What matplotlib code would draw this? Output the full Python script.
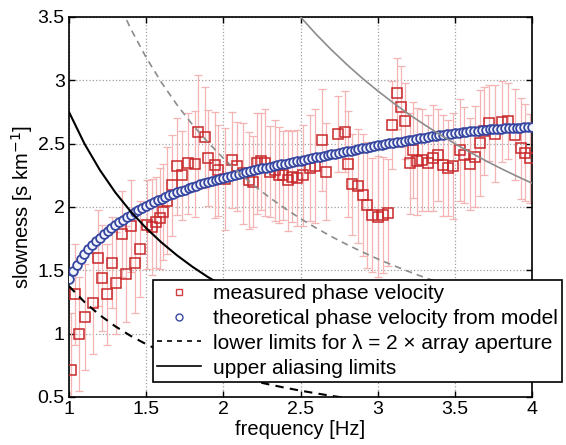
import numpy as np
import matplotlib
matplotlib.use("Agg")
import matplotlib.pyplot as plt
from matplotlib.lines import Line2D

plt.rcParams['font.family'] = ['Liberation Sans', 'DejaVu Sans']

# measured phase velocity (slowness) with error bars
meas_f = [1.011, 1.039, 1.065, 1.104, 1.156, 1.188, 1.214, 1.246, 1.279, 1.305,
          1.343, 1.369, 1.402, 1.428, 1.460, 1.505, 1.538, 1.564, 1.590, 1.609,
          1.635, 1.670, 1.698, 1.730, 1.773, 1.817, 1.838, 1.881, 1.903, 1.946,
          1.968, 2.010, 2.054, 2.087, 2.130, 2.167, 2.190, 2.216, 2.245, 2.270,
          2.300, 2.335, 2.360, 2.389, 2.420, 2.445, 2.476, 2.518, 2.562, 2.594,
          2.638, 2.664, 2.745, 2.789, 2.806, 2.836, 2.875, 2.908, 2.930, 2.966,
          3.005, 3.037, 3.070, 3.091, 3.124, 3.152, 3.178, 3.210, 3.230, 3.253,
          3.286, 3.329, 3.361, 3.393, 3.426, 3.458, 3.490, 3.534, 3.562, 3.599,
          3.631, 3.664, 3.690, 3.718, 3.761, 3.804, 3.847, 3.890, 3.930, 3.955,
          3.988]
meas_s = [0.71, 1.31, 1.00, 1.13, 1.24, 1.60, 1.44, 1.31, 1.56, 1.40,
          1.79, 1.47, 1.85, 1.56, 1.67, 1.86, 1.84, 1.88, 1.91, 1.96,
          2.05, 2.17, 2.32, 2.25, 2.345, 2.34, 2.595, 2.55, 2.385, 2.33,
          2.29, 2.22, 2.37, 2.32, 2.265, 2.21, 2.20, 2.345, 2.36, 2.35,
          2.28, 2.29, 2.25, 2.25, 2.21, 2.24, 2.227, 2.25, 2.306, 2.324,
          2.53, 2.28, 2.575, 2.595, 2.34, 2.18, 2.166, 2.095, 2.016, 1.937,
          1.924, 1.937, 1.955, 2.648, 2.898, 2.79, 2.68, 2.345, 2.45, 2.36,
          2.37, 2.345, 2.385, 2.41, 2.33, 2.306, 2.324, 2.45, 2.41, 2.34,
          2.397, 2.503, 2.60, 2.666, 2.58, 2.674, 2.682, 2.57, 2.464, 2.43,
          2.385]
meas_err = [0.45, 0.40, 0.45, 0.42, 0.40, 0.38, 0.42, 0.40, 0.36, 0.40,
            0.34, 0.38, 0.36, 0.40, 0.38, 0.35, 0.38, 0.36, 0.40, 0.38,
            0.42, 0.40, 0.38, 0.35, 0.40, 0.42, 0.45, 0.40, 0.38, 0.42,
            0.36, 0.40, 0.38, 0.35, 0.40, 0.38, 0.36, 0.40, 0.38, 0.42,
            0.36, 0.40, 0.38, 0.35, 0.40, 0.36, 0.38, 0.40, 0.42, 0.45,
            0.40, 0.38, 0.30, 0.32, 0.42, 0.40, 0.45, 0.48, 0.50, 0.45,
            0.48, 0.46, 0.42, 0.35, 0.28, 0.32, 0.30, 0.40, 0.38, 0.42,
            0.40, 0.38, 0.42, 0.36, 0.40, 0.38, 0.42, 0.40, 0.38, 0.36,
            0.40, 0.42, 0.35, 0.30, 0.38, 0.32, 0.30, 0.36, 0.40, 0.38,
            0.35]

# theoretical phase velocity from model (slowness), f = 1.0 ... 4.0 step 0.025
theo_s = [1.430, 1.495, 1.545, 1.590, 1.630, 1.665, 1.698, 1.728, 1.757, 1.784,
          1.810, 1.834, 1.857, 1.879, 1.900, 1.920, 1.939, 1.957, 1.975, 1.992,
          2.008, 2.023, 2.038, 2.052, 2.066, 2.079, 2.092, 2.104, 2.116, 2.127,
          2.138, 2.149, 2.159, 2.169, 2.179, 2.188, 2.197, 2.206, 2.215, 2.223,
          2.231, 2.239, 2.247, 2.255, 2.262, 2.270, 2.277, 2.284, 2.291, 2.298,
          2.305, 2.311, 2.318, 2.324, 2.330, 2.337, 2.343, 2.349, 2.355, 2.361,
          2.367, 2.373, 2.379, 2.385, 2.391, 2.397, 2.403, 2.409, 2.415, 2.421,
          2.427, 2.433, 2.439, 2.445, 2.451, 2.457, 2.463, 2.469, 2.475, 2.481,
          2.487, 2.492, 2.497, 2.502, 2.507, 2.512, 2.517, 2.522, 2.527, 2.532,
          2.537, 2.542, 2.547, 2.552, 2.557, 2.561, 2.565, 2.569, 2.573, 2.577,
          2.581, 2.585, 2.589, 2.593, 2.597, 2.600, 2.603, 2.606, 2.609, 2.612,
          2.614, 2.616, 2.618, 2.620, 2.622, 2.624, 2.626, 2.627, 2.628, 2.629,
          2.630]
theo_f = np.linspace(1.0, 4.0, len(theo_s))

# limit curves, sampled at f = 1.0 ... 4.0 step 0.1
lim_f = [1.0, 1.1, 1.2, 1.3, 1.4, 1.5, 1.6, 1.7, 1.8, 1.9, 2.0,
         2.1, 2.2, 2.3, 2.4, 2.5, 2.6, 2.7, 2.8, 2.9, 3.0,
         3.1, 3.2, 3.3, 3.4, 3.5, 3.6, 3.7, 3.8, 3.9, 4.0]
alias_s = [2.750, 2.500, 2.292, 2.115, 1.964, 1.833, 1.719, 1.618, 1.528, 1.447, 1.375,
           1.310, 1.250, 1.196, 1.146, 1.100, 1.058, 1.019, 0.982, 0.948, 0.917,
           0.887, 0.859, 0.833, 0.809, 0.786, 0.764, 0.743, 0.724, 0.705, 0.688]
lower_s = [1.375, 1.250, 1.146, 1.058, 0.982, 0.917, 0.859, 0.809, 0.764, 0.724, 0.688,
           0.655, 0.625, 0.598, 0.573, 0.550, 0.529, 0.509, 0.491, 0.474, 0.458,
           0.444, 0.430, 0.417, 0.404, 0.393, 0.382, 0.372, 0.362, 0.353, 0.344]
gray_lower_s = [4.770, 4.336, 3.975, 3.669, 3.407, 3.180, 2.981, 2.806, 2.650, 2.511, 2.385,
                2.271, 2.168, 2.074, 1.988, 1.908, 1.835, 1.767, 1.704, 1.645, 1.590,
                1.539, 1.491, 1.445, 1.403, 1.363, 1.325, 1.289, 1.255, 1.223, 1.193]
gray_alias_s = [8.750, 7.955, 7.292, 6.731, 6.250, 5.833, 5.469, 5.147, 4.861, 4.605, 4.375,
                4.167, 3.977, 3.804, 3.646, 3.500, 3.365, 3.241, 3.125, 3.017, 2.917,
                2.823, 2.734, 2.652, 2.574, 2.500, 2.431, 2.365, 2.303, 2.244, 2.188]

xticks = [1, 1.5, 2, 2.5, 3, 3.5, 4]
yticks = [0.5, 1, 1.5, 2, 2.5, 3, 3.5]

fig = plt.figure(figsize=(5.66, 4.45), dpi=100)
ax = fig.add_axes([0.1219, 0.1079, 0.8181, 0.8539])

ax.errorbar(meas_f, meas_s, yerr=meas_err, fmt='none', ecolor='#f4b4b4',
            elinewidth=0.9, capsize=3, capthick=0.9, zorder=2)
ax.plot(meas_f, meas_s, 's', mfc='none', mec='#c8282a', ms=6.5, mew=1.1, zorder=3)
ax.plot(theo_f, theo_s, 'o', mfc='#f2f4fc', mec='#3545a0', ms=6.3, mew=1.3, zorder=4)

ax.plot(lim_f, gray_lower_s, '--', color='#8c8c8c', lw=1.2, dashes=(4, 3), zorder=5)
ax.plot(lim_f, gray_alias_s, '-', color='#8c8c8c', lw=1.2, zorder=5)
ax.plot(lim_f, lower_s, '--', color='black', lw=1.5, dashes=(4, 3), zorder=5)
ax.plot(lim_f, alias_s, '-', color='black', lw=1.5, zorder=5)

ax.set_xlim(1, 4)
ax.set_ylim(0.5, 3.5)
ax.set_xticks(xticks)
ax.set_yticks(yticks)
ax.set_xticklabels(['1', '1.5', '2', '2.5', '3', '3.5', '4'])
ax.set_yticklabels(['0.5', '1', '1.5', '2', '2.5', '3', '3.5'])
ax.tick_params(direction='in', top=True, right=True, labelsize=14, length=4,
               width=1.0, pad=3)
ax.grid(True, linestyle=':', color='#a0a0a0', lw=0.9)
for sp in ax.spines.values():
    sp.set_linewidth(1.2)

ax.set_xlabel('frequency [Hz]', fontsize=14.5, labelpad=1)
ax.set_ylabel('slowness [s km$^{-1}$]', fontsize=14.5, labelpad=2)

handles = [
    Line2D([], [], marker='s', ls='none', mfc='none', mec='#d04040', ms=5, mew=1.0),
    Line2D([], [], marker='o', ls='none', mfc='none', mec='#3848a0', ms=5, mew=1.0),
    Line2D([], [], ls='--', color='black', lw=1.2, dashes=(3, 3)),
    Line2D([], [], ls='-', color='black', lw=1.2),
]
labels = ['measured phase velocity',
          'theoretical phase velocity from model',
          'lower limits for \u03bb = 2 \u00d7 array aperture',
          'upper aliasing limits']
leg = ax.legend(handles, labels, loc='upper left', bbox_to_anchor=(0.270, 0.371),
                bbox_transform=fig.transFigure, fontsize=15, frameon=True,
                fancybox=False, framealpha=1, edgecolor='black',
                handlelength=2.1, handletextpad=0.6, labelspacing=0.28,
                borderpad=0.2, borderaxespad=0)
leg.get_frame().set_linewidth(1.2)
leg.set_zorder(10)

fig.savefig('out.png', dpi=100)
